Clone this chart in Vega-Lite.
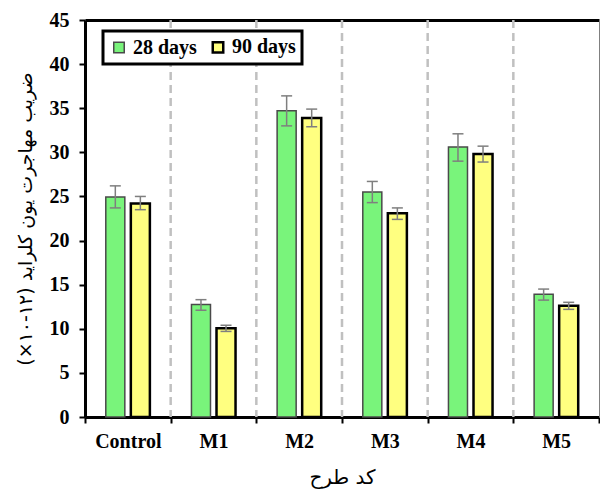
{
  "$schema": "https://vega.github.io/schema/vega-lite/v6.json",
  "width": 514,
  "height": 397,
  "autosize": {"type": "none"},
  "padding": {"left": 85, "top": 20, "right": 1, "bottom": 75},
  "background": "white",
  "config": {
    "view": {"stroke": null},
    "font": "Liberation Serif"
  },
  "data": {
    "values": [
      {"code": "Control", "age": "28 days", "value": 24.95, "lo": 23.7, "hi": 26.2},
      {"code": "Control", "age": "90 days", "value": 24.2, "lo": 23.5, "hi": 25.0},
      {"code": "M1", "age": "28 days", "value": 12.75, "lo": 12.1, "hi": 13.3},
      {"code": "M1", "age": "90 days", "value": 10.05, "lo": 9.7, "hi": 10.4},
      {"code": "M2", "age": "28 days", "value": 34.7, "lo": 33.0, "hi": 36.4},
      {"code": "M2", "age": "90 days", "value": 33.9, "lo": 32.9, "hi": 34.9},
      {"code": "M3", "age": "28 days", "value": 25.5, "lo": 24.3, "hi": 26.7},
      {"code": "M3", "age": "90 days", "value": 23.1, "lo": 22.4, "hi": 23.7},
      {"code": "M4", "age": "28 days", "value": 30.6, "lo": 29.0, "hi": 32.1},
      {"code": "M4", "age": "90 days", "value": 29.8, "lo": 28.9, "hi": 30.7},
      {"code": "M5", "age": "28 days", "value": 13.9, "lo": 13.25, "hi": 14.5},
      {"code": "M5", "age": "90 days", "value": 12.6, "lo": 12.2, "hi": 13.0}
    ]
  },
  "layer": [
    {
      "transform": [{"filter": "datum.age === '28 days' && datum.code !== 'Control'"}],
      "mark": {"type": "rule", "color": "#C0C0C0", "strokeWidth": 2.5, "strokeDash": [8, 5]},
      "encoding": {
        "x": {
          "field": "code", "type": "nominal", "sort": ["Control", "M1", "M2", "M3", "M4", "M5"],
          "bandPosition": 0,
          "axis": {"orient": "top", "title": null, "labels": false, "ticks": false, "grid": false,
                   "domainColor": "black", "domainWidth": 3}
        }
      }
    },
    {
      "mark": {"type": "bar"},
      "encoding": {
        "x": {
          "field": "code", "type": "nominal", "sort": ["Control", "M1", "M2", "M3", "M4", "M5"],
          "scale": {"paddingInner": 0, "paddingOuter": 0},
          "axis": {
            "orient": "bottom",
            "title": "کد طرح",
            "titleFont": "DejaVu Sans", "titleFontWeight": "normal", "titleFontSize": 20, "titleColor": "black",
            "titlePadding": 16,
            "labelAngle": 0, "labelFont": "Liberation Serif", "labelFontWeight": "bold", "labelFontSize": 20, "labelColor": "black",
            "labelPadding": 8,
            "tickBand": "extent", "ticks": true, "tickColor": "black", "tickWidth": 2, "tickSize": 6,
            "domainColor": "black", "domainWidth": 3,
            "grid": false
          }
        },
        "xOffset": {
          "field": "age", "type": "nominal",
          "scale": {"paddingInner": 0.24, "paddingOuter": 0.83}
        },
        "y": {
          "field": "value", "type": "quantitative",
          "scale": {"domain": [0, 45], "nice": false},
          "axis": {
            "orient": "left",
            "title": "\u202Bضریب مهاجرت یون کلراید (\u2066۱۰-۱۲\u2069×)\u202C",
            "titleFont": "DejaVu Sans", "titleFontWeight": "normal", "titleFontSize": 19, "titleColor": "black",
            "titlePadding": 14,
            "values": [0, 5, 10, 15, 20, 25, 30, 35, 40, 45],
            "labelFont": "Liberation Serif", "labelFontWeight": "bold", "labelFontSize": 20, "labelColor": "black",
            "labelPadding": 10,
            "tickColor": "black", "tickWidth": 2, "tickSize": 6,
            "domainColor": "black", "domainWidth": 3,
            "grid": false
          }
        },
        "fill": {
          "field": "age", "type": "nominal",
          "scale": {"domain": ["28 days", "90 days"], "range": ["#79F47B", "#FFFF80"]},
          "legend": {
            "title": null,
            "orient": "none", "legendX": 18, "legendY": 11,
            "direction": "horizontal",
            "labelFont": "Liberation Serif", "labelFontWeight": "bold", "labelFontSize": 20, "labelColor": "black",
            "symbolType": "square", "symbolSize": 110, "symbolStrokeColor": "black", "symbolStrokeWidth": 1.2,
            "symbolOpacity": 1,
            "labelOffset": 4, "columnPadding": 10,
            "padding": 6, "strokeColor": "black",
            "fillColor": "white",
            "encode": {"legend": {"update": {"strokeWidth": {"value": 3}}}}
          }
        },
        "stroke": {
          "field": "age", "type": "nominal",
          "scale": {"domain": ["28 days", "90 days"], "range": ["#4A4A4A", "#000000"]},
          "legend": null
        },
        "strokeWidth": {
          "field": "age", "type": "nominal",
          "scale": {"domain": ["28 days", "90 days"], "range": [1.5, 2.5]},
          "legend": null
        }
      }
    },
    {
      "mark": {"type": "rule", "color": "#7F7F7F", "strokeWidth": 1.5},
      "encoding": {
        "x": {"field": "code", "type": "nominal", "sort": ["Control", "M1", "M2", "M3", "M4", "M5"], "axis": null},
        "xOffset": {"field": "age", "type": "nominal"},
        "y": {"field": "lo", "type": "quantitative", "axis": null},
        "y2": {"field": "hi"}
      }
    },
    {
      "mark": {"type": "tick", "color": "#7F7F7F", "thickness": 1.5, "size": 11, "opacity": 1},
      "encoding": {
        "x": {"field": "code", "type": "nominal", "sort": ["Control", "M1", "M2", "M3", "M4", "M5"], "axis": null},
        "xOffset": {"field": "age", "type": "nominal"},
        "y": {"field": "lo", "type": "quantitative", "axis": null}
      }
    },
    {
      "mark": {"type": "tick", "color": "#7F7F7F", "thickness": 1.5, "size": 11, "opacity": 1},
      "encoding": {
        "x": {"field": "code", "type": "nominal", "sort": ["Control", "M1", "M2", "M3", "M4", "M5"], "axis": null},
        "xOffset": {"field": "age", "type": "nominal"},
        "y": {
          "field": "hi", "type": "quantitative",
          "axis": {"orient": "right", "title": null, "labels": false, "ticks": false, "grid": false,
                   "domainColor": "#808080", "domainWidth": 1}
        }
      }
    }
  ]
}
